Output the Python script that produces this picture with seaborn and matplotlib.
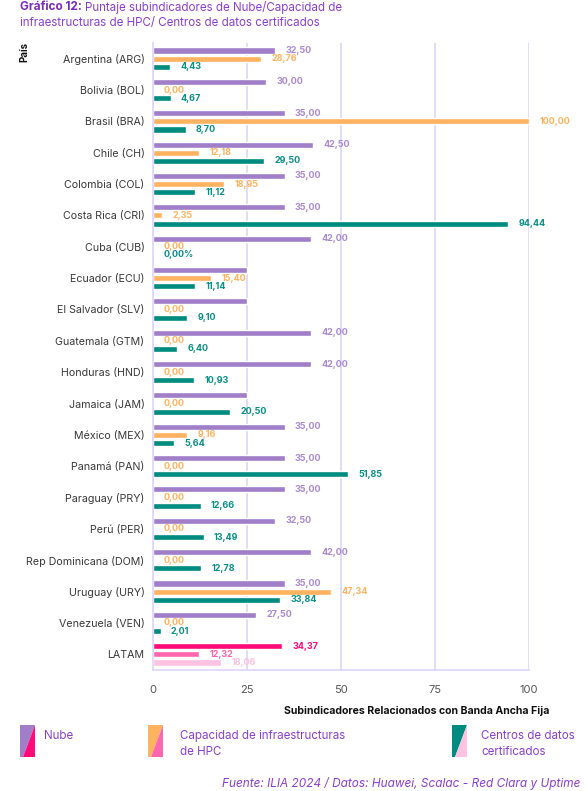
import matplotlib
matplotlib.use('Agg')
import matplotlib.pyplot as plt
import matplotlib.patches as mpatches
import numpy as np
import pandas as pd
import seaborn as sns

paises = ['Argentina (ARG)', 'Bolivia (BOL)', 'Brasil (BRA)', 'Chile (CH)', 'Colombia (COL)',
          'Costa Rica (CRI)', 'Cuba (CUB)', 'Ecuador (ECU)', 'El Salvador (SLV)', 'Guatemala (GTM)',
          'Honduras (HND)', 'Jamaica (JAM)', 'México (MEX)', 'Panamá (PAN)', 'Paraguay (PRY)',
          'Perú (PER)', 'Rep Dominicana (DOM)', 'Uruguay (URY)', 'Venezuela (VEN)', 'LATAM']
nube = [32.50, 30.00, 35.00, 42.50, 35.00, 35.00, 42.00, 25.00, 25.00, 42.00,
        42.00, 25.00, 35.00, 35.00, 35.00, 32.50, 42.00, 35.00, 27.50, 34.37]
hpc = [28.76, 0.00, 100.00, 12.18, 18.95, 2.35, 0.00, 15.40, 0.00, 0.00,
       0.00, 0.00, 9.16, 0.00, 0.00, 0.00, 0.00, 47.34, 0.00, 12.32]
centros = [4.43, 4.67, 8.70, 29.50, 11.12, 94.44, 0.00, 11.14, 9.10, 6.40,
           10.93, 20.50, 5.64, 51.85, 12.66, 13.49, 12.78, 33.84, 2.01, 18.06]
series = ['Nube', 'Capacidad de infraestructuras\nde HPC', 'Centros de datos\ncertificados']
# labels hidden behind bars in the original
sin_etiqueta = {0: ['Ecuador (ECU)', 'El Salvador (SLV)', 'Jamaica (JAM)']}

colores = ['#A07FC8', '#FFB360', '#008B80']
colores_latam = ['#FF0A78', '#FF66AE', '#FFC2E0']
colores_texto = ['#A98AD2', '#FFB360', '#0A8F86']

df = pd.DataFrame({
    'pais': paises * 3,
    'serie': np.repeat(series, len(paises)),
    'valor': nube + hpc + centros,
})

sns.set_style('white')
plt.rcParams['font.family'] = ['Inter', 'DejaVu Sans']

fig = plt.figure(figsize=(5.86, 7.91), dpi=100)
ax = fig.add_axes([0.261, 0.153, 0.642, 0.7926])

sns.barplot(data=df, y='pais', x='valor', hue='serie', orient='h', palette=colores,
            width=0.78, gap=0.25, legend=False, ax=ax, saturation=1)

vals = [nube, hpc, centros]
for k, cont in enumerate(ax.containers):
    for i, bar in enumerate(cont):
        if paises[i] == 'LATAM':
            bar.set_facecolor(colores_latam[k])
            tc = colores_latam[k]
        else:
            tc = colores_texto[k]
        if paises[i] in sin_etiqueta.get(k, []):
            continue
        v = vals[k][i]
        txt = f'{v:.2f}'.replace('.', ',')
        if k == 2 and paises[i] == 'Cuba (CUB)':
            txt += '%'
        y = bar.get_y() + bar.get_height() / 2
        ax.annotate(txt, (bar.get_width(), y), xytext=(7.5, 0), textcoords='offset points',
                    va='center', ha='left', fontsize=6.5, fontweight='bold', color=tc)

ax.set_xlim(0, 100)
ax.set_ylim(len(paises) - 0.5, -0.5)
ax.set_xticks([0, 25, 50, 75, 100])
ax.grid(axis='x', color='#DDD5FA', lw=1.2)
ax.set_axisbelow(True)
for s in ['top', 'right']:
    ax.spines[s].set_visible(False)
for s in ['left', 'bottom']:
    ax.spines[s].set_color('#DDD5FA')
    ax.spines[s].set_linewidth(1.2)
ax.tick_params(axis='y', length=0, pad=6, labelsize=7.7, labelcolor='#3A3A3A')
ax.tick_params(axis='x', length=0, pad=11, labelsize=8, labelcolor='#555555')
ax.set_xlabel('')
ax.set_ylabel('')

fig.text(417 / 586, 1 - 711 / 791, 'Subindicadores Relacionados con Banda Ancha Fija',
         ha='center', va='center', fontsize=7.6, fontweight='bold', color='#111111')
fig.text(24 / 586, 1 - 52 / 791, 'País', rotation=90, ha='center', va='center',
         fontsize=7, fontweight='bold', color='#111111')

# title
t1 = fig.text(20 / 586, 1 - 7 / 791, 'Gráfico 12:', ha='left', va='center',
              fontsize=8.5, fontweight='bold', color='#7A2BC0')
fig.canvas.draw()
bb = t1.get_window_extent(fig.canvas.get_renderer())
fig.text(bb.x1 / fig.bbox.width + 3 / 586, 1 - 7 / 791, 'Puntaje subindicadores de Nube/Capacidad de',
         ha='left', va='center', fontsize=8.3, color='#8A3FD0')
fig.text(20 / 586, 1 - 23 / 791, 'infraestructuras de HPC/ Centros de datos certificados',
         ha='left', va='center', fontsize=8.3, color='#8A3FD0')

# legend with split swatches
W, H = 586, 791
iconos = [(20, colores[0], colores_latam[0], 44),
          (148, colores[1], colores_latam[1], 180),
          (452, colores[2], colores_latam[2], 481)]
for (x0, c1, c2, xt), nombre in zip(iconos, series):
    y0, y1 = 725, 757
    x1 = x0 + 15
    izq = [(x0, y0), (x1, y0), (x0 + 3, y1), (x0, y1)]
    der = [(x1, y0), (x1, y1), (x0 + 3, y1)]
    for pts, c in [(izq, c1), (der, c2)]:
        fig.patches.append(mpatches.Polygon([(px / W, 1 - py / H) for px, py in pts],
                                            closed=True, facecolor=c, edgecolor='none',
                                            transform=fig.transFigure))
    fig.text(xt / W, 1 - 730 / H, nombre, ha='left', va='top', fontsize=8.3,
             color='#8A3FD0', linespacing=1.45)

fig.text(580 / W, 1 - 784 / H, 'Fuente: ILIA 2024 / Datos: Huawei, Scalac - Red Clara y Uptime',
         ha='right', va='center', fontsize=8.5, style='italic', color='#8A3FD0')

fig.savefig('out.png', dpi=100)
